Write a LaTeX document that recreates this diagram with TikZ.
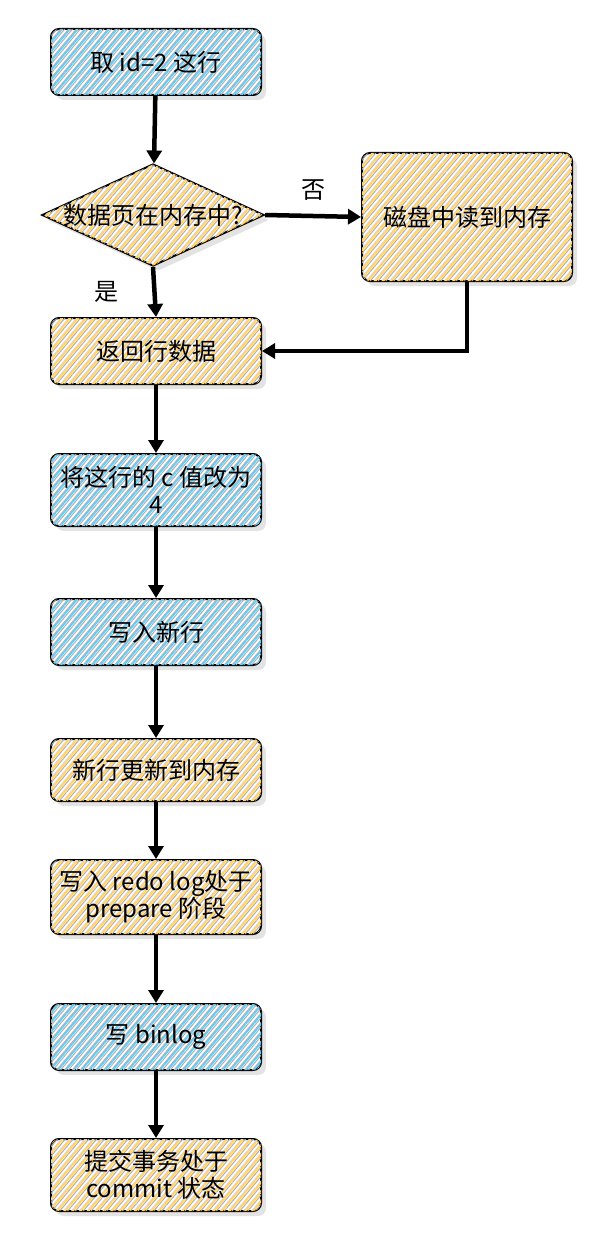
\documentclass[tikz,border=0pt]{standalone}
\usepackage{fontspec}
\setmainfont{Noto Sans CJK SC}
\usetikzlibrary{shapes,arrows.meta,positioning,calc,shadows,patterns.meta}

\definecolor{hatchblue}{RGB}{118,198,232}
\definecolor{hatchorange}{RGB}{255,212,120}
\definecolor{hatchgray}{RGB}{175,175,175}

\tikzset{
    sketchbox/.style={draw,rectangle,rounded corners=8pt,line width=2pt,
        minimum width=210pt,minimum height=66pt,align=center,fill=white,
        drop shadow={shadow xshift=5pt,shadow yshift=-5pt,fill=hatchgray!70},
        postaction={pattern={Lines[angle=50,distance=6pt,line width=2.4pt]},pattern color=#1},
        postaction={pattern={Lines[angle=50,distance=6pt,line width=1pt,xshift=3pt]},pattern color=hatchgray}},
    decide/.style={draw,diamond,shape aspect=2.1,line width=2pt,inner xsep=-25pt,inner ysep=0pt,
        minimum width=222pt,minimum height=102pt,fill=white,
        drop shadow={shadow xshift=5pt,shadow yshift=-5pt,fill=hatchgray!70},
        postaction={pattern={Lines[angle=50,distance=6pt,line width=2.4pt]},pattern color=hatchorange},
        postaction={pattern={Lines[angle=50,distance=6pt,line width=1pt,xshift=3pt]},pattern color=hatchgray}},
    flow/.style={-{Triangle[length=13pt,width=15pt]},line width=4.5pt},
    every node/.style={font=\fontsize{24pt}{27pt}\selectfont}
}

\begin{document}
\begin{tikzpicture}[x=1pt,y=-1pt]
    \useasboundingbox (0,0) rectangle (594,1260);

    \node[sketchbox=hatchblue] (fetch) at (156,62) {取 id=2 这行};
    \node[decide] (inmem) at (153,215) {数据页在内存中?};
    \node[sketchbox=hatchorange,minimum height=128pt] (disk) at (467,217) {磁盘中读到内存};
    \node[sketchbox=hatchorange] (ret) at (156,351) {返回行数据};
    \node[sketchbox=hatchblue,minimum height=72pt] (setc) at (156,490) {将这行的 c 值改为\\4};
    \node[sketchbox=hatchblue] (write) at (156,632) {写入新行};
    \node[sketchbox=hatchorange,minimum height=62pt] (mem) at (156,770) {新行更新到内存};
    \node[sketchbox=hatchorange,minimum height=74pt] (redo) at (156,897) {写入 redo log处于\\prepare 阶段};
    \node[sketchbox=hatchblue] (binlog) at (156,1037) {写 binlog};
    \node[sketchbox=hatchorange,minimum height=72pt] (commit) at (156,1175) {提交事务处于\\commit 状态};

    \draw[flow] (fetch) -- (inmem);
    \draw[flow] (inmem.east) -- (disk.west) node[midway,above=10pt] {否};
    \draw[flow] (inmem.south) -- (ret.north) node[midway,left=30pt] {是};
    \draw[flow] (disk.south) |- (ret.east);
    \draw[flow] (ret) -- (setc);
    \draw[flow] (setc) -- (write);
    \draw[flow] (write) -- (mem);
    \draw[flow] (mem) -- (redo);
    \draw[flow] (redo) -- (binlog);
    \draw[flow] (binlog) -- (commit);
\end{tikzpicture}
\end{document}
